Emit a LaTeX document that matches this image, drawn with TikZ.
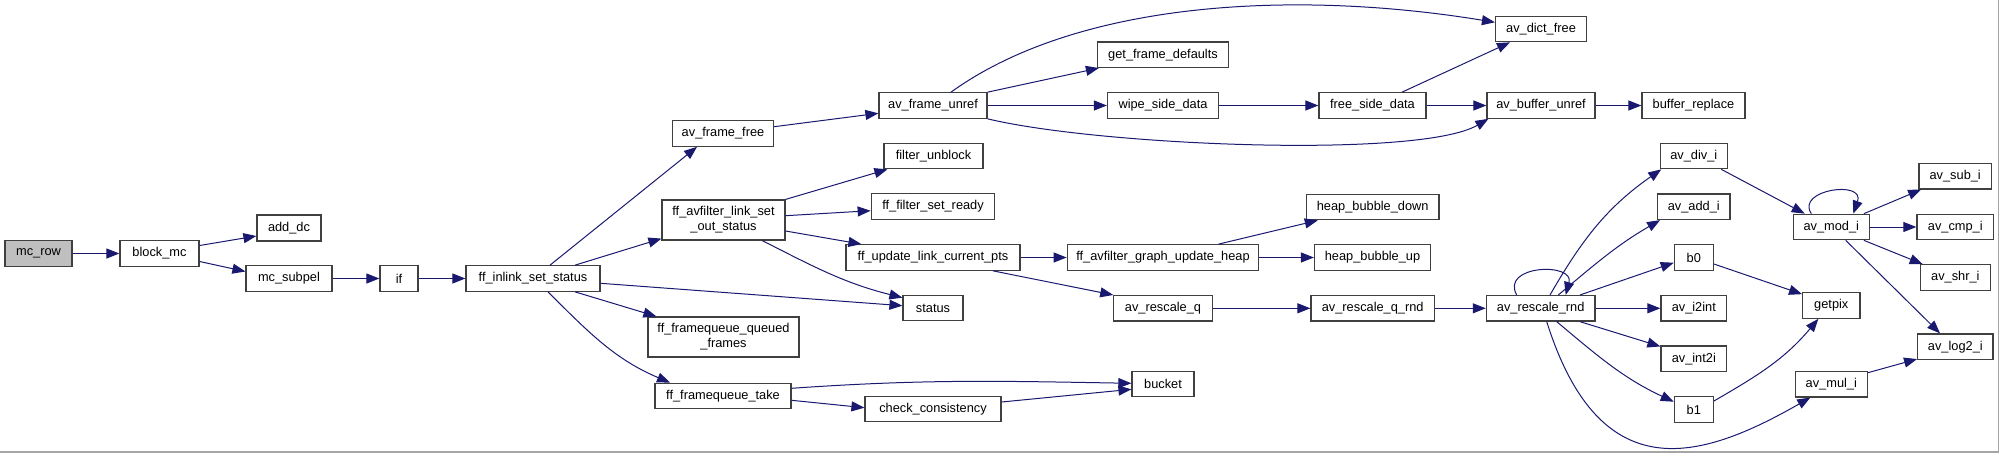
\documentclass[tikz,border=0pt]{standalone}
\usepackage{fontspec}
\setmainfont{Liberation Sans}
\usepackage{xcolor}
\usepackage{tikz}
\usetikzlibrary{arrows.meta}
\definecolor{edgeblue}{RGB}{25,25,112}
\definecolor{callergray}{RGB}{191,191,191}

\begin{document}
\begin{tikzpicture}[
    x=1pt, y=-1pt,
    font=\fontsize{12.8}{15}\selectfont,
    fn/.style={rectangle, draw=black!75, fill=white, line width=1.2pt, minimum height=25.5pt, inner sep=0pt, align=center},
    fn2/.style={fn, minimum height=40pt},
    root/.style={fn, fill=callergray},
    arr/.style={-{Triangle[length=13pt, width=10pt]}, edgeblue, line width=1pt},
]
\useasboundingbox (0,0) rectangle (1999,453);
\draw[black!35, line width=1.5pt] (0,452) -- (1998.5,452) -- (1998.5,0);

\node[root, minimum width=67pt] (mcrow) at (38.5,253.5) {mc\_row};
\node[fn, minimum width=79pt] (blockmc) at (159.5,253.5) {block\_mc};
\node[fn, minimum width=64pt, minimum height=26pt] (adddc) at (289,228) {add\_dc};
\node[fn, minimum width=86pt] (subpel) at (289,278.5) {mc\_subpel};
\node[fn, minimum width=38pt] (iff) at (399,278.5) {if};
\node[fn, minimum width=134pt] (inlink) at (533,278.5) {ff\_inlink\_set\_status};
\node[fn, minimum width=101pt] (framefree) at (723,133.5) {av\_frame\_free};
\node[fn2, minimum width=123pt] (setout) at (723.5,220) {ff\_avfilter\_link\_set\\\_out\_status};
\node[fn2, minimum width=151pt] (queued) at (723.5,337) {ff\_framequeue\_queued\\\_frames};
\node[fn, minimum width=136pt] (fqtake) at (723,396) {ff\_framequeue\_take};
\node[fn, minimum width=108pt] (frameunref) at (933,105.5) {av\_frame\_unref};
\node[fn, minimum width=99pt] (unblock) at (933.5,156) {filter\_unblock};
\node[fn, minimum width=123.5pt] (setready) at (933,206.5) {ff\_filter\_set\_ready};
\node[fn, minimum width=174pt] (updpts) at (933,257.5) {ff\_update\_link\_current\_pts};
\node[fn, minimum width=60pt] (status) at (933,308) {status};
\node[fn, minimum width=136pt] (checkc) at (933,409) {check\_consistency};
\node[fn, minimum width=131pt] (getdef) at (1163,54.7) {get\_frame\_defaults};
\node[fn, minimum width=111pt] (wipesd) at (1163,105.5) {wipe\_side\_data};
\node[fn, minimum width=191.5pt] (heapupd) at (1163,257.5) {ff\_avfilter\_graph\_update\_heap};
\node[fn, minimum width=98.4pt] (rescaleq) at (1163,308.3) {av\_rescale\_q};
\node[fn, minimum width=62pt] (bucket) at (1163,384) {bucket};
\node[fn, minimum width=91pt] (dictfree) at (1541,29) {av\_dict\_free};
\node[fn, minimum width=107pt] (freesd) at (1372.5,105.5) {free\_side\_data};
\node[fn, minimum width=108pt] (bufunref) at (1541,105.5) {av\_buffer\_unref};
\node[fn, minimum width=132.6pt] (bubdown) at (1372.7,207) {heap\_bubble\_down};
\node[fn, minimum width=116pt] (bubup) at (1372.5,257.5) {heap\_bubble\_up};
\node[fn, minimum width=123.4pt] (rescaleqrnd) at (1372.7,308.3) {av\_rescale\_q\_rnd};
\node[fn, minimum width=108.7pt] (rescalernd) at (1540.7,308.3) {av\_rescale\_rnd};
\node[fn, minimum width=103pt] (bufrepl) at (1693.5,105.5) {buffer\_replace};
\node[fn, minimum width=67pt] (divi) at (1693.8,156) {av\_div\_i};
\node[fn, minimum width=72.3pt] (addi) at (1693.8,206.8) {av\_add\_i};
\node[fn, minimum width=39pt] (bzero) at (1693.8,257.5) {b0};
\node[fn, minimum width=65.7pt] (itoint) at (1693.8,308.3) {av\_i2int};
\node[fn, minimum width=65.7pt] (inttoi) at (1693.8,358.8) {av\_int2i};
\node[fn, minimum width=39pt] (bone) at (1693.8,409.5) {b1};
\node[fn, minimum width=76pt] (modi) at (1831.3,227) {av\_mod\_i};
\node[fn, minimum width=57.3pt] (getpix) at (1831.3,305.5) {getpix};
\node[fn, minimum width=72pt] (muli) at (1831.3,384.2) {av\_mul\_i};
\node[fn, minimum width=72.3pt] (subi) at (1955.2,176.2) {av\_sub\_i};
\node[fn, minimum width=76.7pt] (cmpi) at (1955.3,227) {av\_cmp\_i};
\node[fn, minimum width=70pt] (shri) at (1955.3,277.5) {av\_shr\_i};
\node[fn, minimum width=75.3pt] (logi) at (1955.3,346.7) {av\_log2\_i};

\draw[arr] (mcrow) -- (blockmc);
\draw[arr] ([yshift=8pt]blockmc.east) -- ([yshift=-8pt]adddc.west);
\draw[arr] ([yshift=-8pt]blockmc.east) -- ([yshift=7pt]subpel.west);
\draw[arr] (subpel) -- (iff);
\draw[arr] (iff) -- (inlink);
\draw[arr] ([xshift=17pt]inlink.north) -- ([xshift=-26pt]framefree.south);
\draw[arr] ([xshift=42pt]inlink.north) -- ([yshift=2pt]setout.south west);
\draw[arr] ([yshift=-4.8pt]inlink.east) -- ([yshift=2.3pt]status.west);
\draw[arr] ([xshift=42pt]inlink.south) -- ([xshift=9pt]queued.north west);
\draw[arr] ([xshift=15pt]inlink.south) to[out=-45, in=157] ([xshift=-53pt]fqtake.north);
\draw[arr] ([yshift=6.8pt]framefree.east) -- ([yshift=-7.8pt]frameunref.west);
\draw[arr] ([xshift=18pt]frameunref.north) .. controls +(129,-93) and +(-195,-32) .. ([yshift=6.7pt]dictfree.west);
\draw[arr] (frameunref.north east) -- ([xshift=2pt]getdef.south west);
\draw[arr] (frameunref) -- (wipesd);
\draw[arr] (frameunref.south east) .. controls +(113,27) and +(-69,40) .. ([xshift=2pt]bufunref.south west);
\draw[arr] (wipesd) -- (freesd);
\draw[arr] ([xshift=29.5pt]freesd.north) -- ([xshift=-31pt]dictfree.south);
\draw[arr] (freesd) -- (bufunref);
\draw[arr] (bufunref) -- (bufrepl);
\draw[arr] (setout.north east) -- ([xshift=4pt]unblock.south west);
\draw[arr] ([yshift=4.3pt]setout.east) -- ([yshift=-4.2pt]setready.west);
\draw[arr] ([yshift=-11pt]setout.east) -- ([xshift=16pt]updpts.north west);
\draw[arr] ([xshift=38.8pt]setout.south) to[out=-27, in=166] ([yshift=-3pt]status.north west);
\draw[arr] (updpts) -- (heapupd);
\draw[arr] ([xshift=60pt]updpts.south) -- (rescaleq.north west);
\draw[arr] ([xshift=55.4pt]heapupd.north) -- ([xshift=12pt]bubdown.south west);
\draw[arr] (heapupd) -- (bubup);
\draw[arr] (rescaleq) -- (rescaleqrnd);
\draw[arr] (rescaleqrnd) -- (rescalernd);
\draw[arr] ([xshift=-24pt]rescalernd.north) .. controls +(-16.7,-30) and +(9,-33) .. ([xshift=25pt]rescalernd.north);
\draw[arr] ([xshift=9.3pt]rescalernd.north) to[out=60, in=-145] ([xshift=1.5pt]divi.south west);
\draw[arr] ([xshift=17.6pt]rescalernd.north) to[out=40, in=-150] ([xshift=3pt]addi.south west);
\draw[arr] ([xshift=39.3pt]rescalernd.north) -- ([yshift=-5.2pt]bzero.west);
\draw[arr] (rescalernd) -- (itoint);
\draw[arr] ([xshift=39.3pt]rescalernd.south) -- ([yshift=-1pt]inttoi.north west);
\draw[arr] ([xshift=16pt]rescalernd.south) to[out=-40, in=155] ([yshift=7.8pt]bone.west);
\draw[arr] ([xshift=6pt]rescalernd.south) .. controls +(53.3,169) and +(-110,63) .. ([xshift=-21pt]muli.south);
\draw[arr] ([xshift=-6.6pt]divi.south east) -- ([xshift=12pt]modi.north west);
\draw[arr] ([xshift=-20pt]modi.north) .. controls +(-16,-24) and +(12,-34) .. ([xshift=22pt]modi.north);
\draw[arr] ([xshift=-6pt]modi.north east) -- ([xshift=2.7pt]subi.south west);
\draw[arr] (modi) -- (cmpi);
\draw[arr] ([xshift=-6pt]modi.south east) -- ([xshift=3pt]shri.north west);
\draw[arr] ([xshift=14.4pt]modi.south) -- ([xshift=-15.3pt]logi.north);
\draw[arr] ([yshift=-6.5pt]bzero.east) -- ([yshift=-2pt]getpix.north west);
\draw[arr] ([yshift=8.5pt]bone.east) to[out=30, in=-130] ([xshift=-13pt]getpix.south);
\draw[arr] ([yshift=11.5pt]muli.east) -- ([yshift=1pt]logi.south west);
\draw[arr] ([yshift=7.7pt]fqtake.east) to[out=4, in=179] ([yshift=0.7pt]bucket.west);
\draw[arr] ([yshift=-4.3pt]fqtake.east) -- ([yshift=1.3pt]checkc.west);
\draw[arr] ([yshift=7pt]checkc.east) -- ([yshift=-5.3pt]bucket.west);

\end{tikzpicture}
\end{document}
